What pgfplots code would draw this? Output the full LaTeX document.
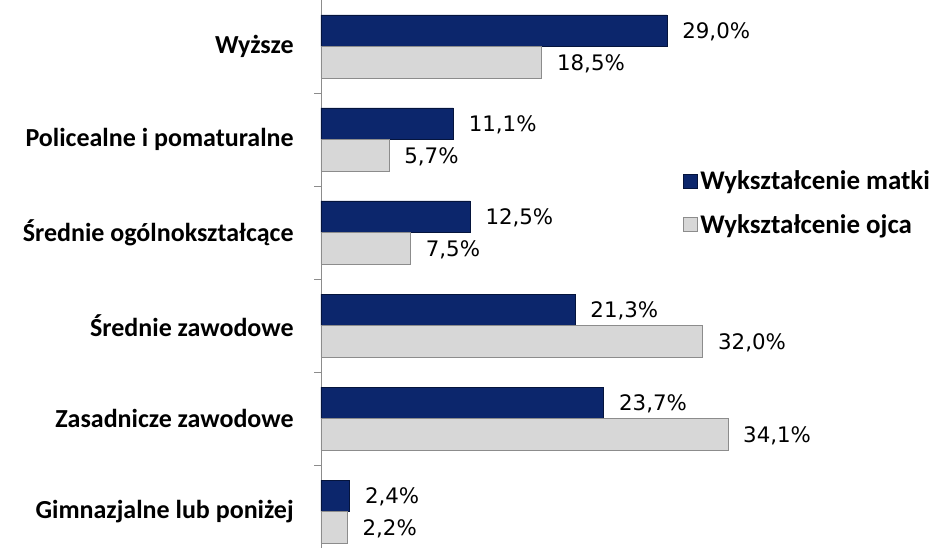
\documentclass[border=0pt]{standalone}
\usepackage{fontspec}
\setmainfont{Carlito}
\newfontfamily\valfont{DejaVu Sans}
\usepackage{pgfplots}
\pgfplotsset{compat=1.18}
\definecolor{navy}{RGB}{12,38,108}
\definecolor{navyedge}{RGB}{5,20,60}
\definecolor{lgray}{RGB}{215,215,215}
\definecolor{lgedge}{RGB}{140,140,140}
\definecolor{axgray}{RGB}{140,140,140}
\begin{document}
\begin{tikzpicture}
\begin{axis}[
  scale only axis,
  width=459pt, height=411pt,
  xmin=0, xmax=51.3,
  ymin=-0.5, ymax=5.39,
  y dir=reverse,
  xbar, bar width=0.34,
  axis x line=none,
  axis y line=left,
  y axis line style={-, draw=axgray},
  ytick={0,1,2,3,4,5},
  yticklabels={Wyższe,Policealne i pomaturalne,Średnie ogólnokształcące\ ,Średnie zawodowe,Zasadnicze zawodowe,Gimnazjalne lub poniżej},
  yticklabel style={font=\bfseries\fontsize{19.5}{23}\selectfont, xshift=-17pt},
  major tick length=0pt,
  extra y ticks={0.5,1.5,2.5,3.5,4.5},
  extra y tick labels={},
  extra y tick style={major tick length=5pt, tick align=outside, ytick style={draw=axgray}},
  clip=false,
  enlargelimits=false,
  nodes near coords={\pgfmathprintnumber[assume math mode=true,fixed,fixed zerofill,precision=1,use comma]{\pgfplotspointmeta}\%},
  every node near coord/.append style={font=\valfont\fontsize{16}{19}\selectfont, anchor=west, xshift=8pt, yshift=-1pt, black},
  legend style={draw=none, fill=none, at={(0.585,0.629)}, anchor=west,
    font=\bfseries\fontsize{20.2}{24}\selectfont, row sep=13pt,
    /tikz/every even column/.append style={column sep=0pt}},
  legend cell align=left,
  legend image code/.code={\draw[#1] (0pt,-5pt) rectangle (10.5pt,5.5pt);},
]
\addplot[fill=navy, draw=navyedge, bar shift=-0.17] coordinates {(29.0,0) (11.1,1) (12.5,2) (21.3,3) (23.7,4) (2.4,5)};
\addplot[fill=lgray, draw=lgedge, bar shift=0.17] coordinates {(18.5,0) (5.7,1) (7.5,2) (32.0,3) (34.1,4) (2.2,5)};
\legend{Wykształcenie matki, Wykształcenie ojca}
\coordinate (A) at (rel axis cs:0,1);
\coordinate (B) at (rel axis cs:1,0);
\end{axis}
\pgfresetboundingbox
\path[use as bounding box] ([xshift=-240.75pt]A) rectangle (B);
\end{tikzpicture}
\end{document}
